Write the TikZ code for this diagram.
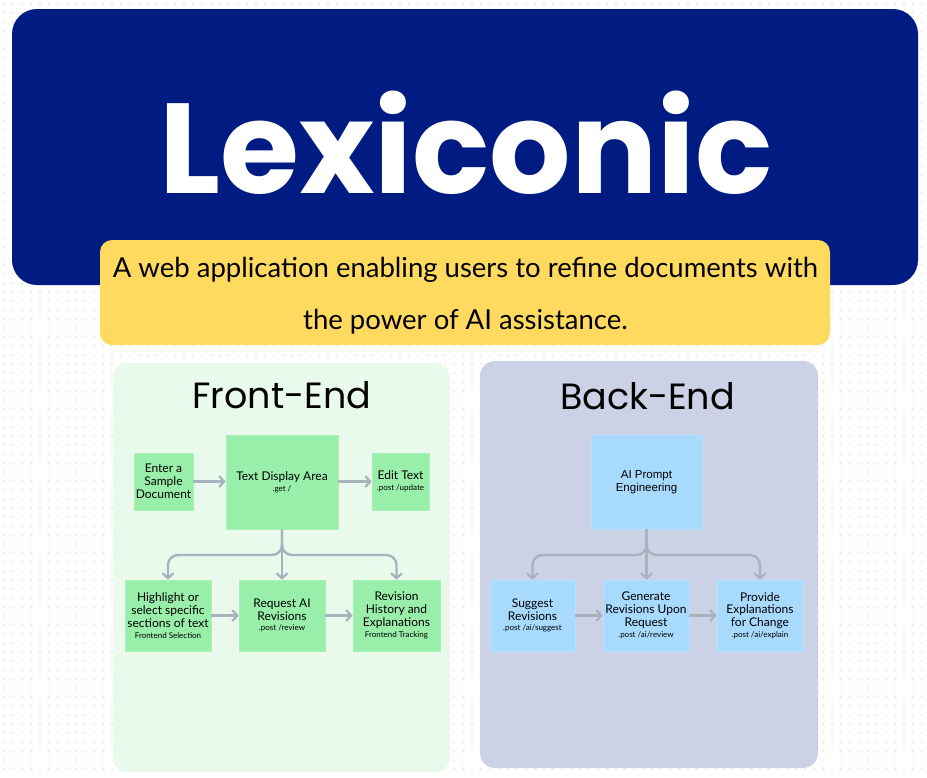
\documentclass[tikz,border=0pt]{standalone}
\usepackage{fontspec}
\setmainfont{Lato}
\newfontfamily\titlefont{Poppins}
\newfontfamily\headfont{Poppins}
\newfontfamily\arialfont{Liberation Sans}
\usetikzlibrary{arrows.meta}
\definecolor{darkblue}{RGB}{0,27,130}
\definecolor{yel}{RGB}{255,218,94}
\definecolor{fepanel}{RGB}{233,249,236}
\definecolor{bepanel}{RGB}{204,210,230}
\definecolor{gnode}{RGB}{153,239,169}
\definecolor{bnode}{RGB}{168,218,254}
\definecolor{arrc}{RGB}{168,178,188}
\definecolor{dotc}{RGB}{238,238,240}
\tikzset{
  gbox/.style={fill=gnode, draw=gnode!85!white, line width=0.6pt, align=center, inner sep=2pt,
     font=\fontsize{12}{12.8}\selectfont},
  bbox/.style={fill=bnode, draw=bnode!85!white, line width=0.6pt, align=center, inner sep=2pt,
     font=\fontsize{12}{12.8}\selectfont},
  arr/.style={draw=arrc, line width=2.4pt, -{Straight Barb[length=5pt,width=11pt,line width=2.2pt]}},
}
\newcommand{\sm}[1]{{\fontsize{8}{9}\selectfont #1}}
\begin{document}
\begin{tikzpicture}[x=1pt,y=-1pt]
\useasboundingbox (0,0) rectangle (927,777);
\fill[white] (0,0) rectangle (927,777);
\foreach \yy in {4,13,...,776}
  \draw[dotc, line width=2.6pt, line cap=round, dash pattern=on 0pt off 9pt] (4,\yy) -- (927,\yy);
% header
\fill[darkblue, rounded corners=25pt] (12,9) rectangle (918,285);
\node[white, anchor=base, inner sep=0pt, font=\titlefont\bfseries\fontsize{128}{128}\selectfont] (title) at (466,193) {Lexiconic};
\fill[yel, rounded corners=12pt] (100,240) rectangle (830,345);
\node[anchor=base, inner sep=0pt, font=\fontsize{27.5}{29}\selectfont] (sub1) at (465.5,277) {A web application enabling users to refine documents with};
\node[anchor=base, inner sep=0pt, font=\fontsize{27.5}{29}\selectfont] (sub2) at (465.5,329) {the power of AI assistance.};
% panels
\fill[fepanel, rounded corners=15pt] (113,363) rectangle (450,772);
\fill[bepanel, rounded corners=15pt] (480,361) rectangle (818,768);
\node[anchor=base, inner sep=0pt, font=\headfont\fontsize{36.5}{37}\selectfont] (fe) at (282,408) {Front-End};
\node[anchor=base, inner sep=0pt, font=\headfont\fontsize{36.5}{37}\selectfont] (be) at (647.5,409) {Back-End};
% front-end nodes
\node[gbox, minimum width=57, minimum height=57] (enter) at (163.5,481.5) {Enter a\\Sample\\Document};
\node[gbox, minimum width=112, minimum height=94] (td) at (282,482) {Text Display Area\\[-2pt]\sm{.get /}};
\node[gbox, minimum width=57, minimum height=57] (edit) at (400.5,481.5) {Edit Text\\[-2pt]\sm{.post /update}};
\node[gbox, minimum width=86, minimum height=71] (hl) at (168,615.5) {Highlight or\\select specific\\sections of text\\[-2pt]\sm{Frontend Selection}};
\node[gbox, minimum width=86, minimum height=71] (req) at (282,615.5) {Request AI\\Revisions\\[-2pt]\sm{.post /review}};
\node[gbox, minimum width=87, minimum height=71] (rev) at (396.5,615.5) {Revision\\History and\\Explanations\\[-2pt]\sm{Frontend Tracking}};
% back-end nodes
\node[bbox, minimum width=111, minimum height=94, font=\arialfont\fontsize{11.5}{12.8}\selectfont] (ai) at (646.5,482) {AI Prompt\\Engineering};
\node[bbox, minimum width=85, minimum height=71] (sug) at (532.5,615.5) {Suggest\\Revisions\\[-2pt]\sm{.post /ai/suggest}};
\node[bbox, minimum width=86, minimum height=71] (gen) at (646,615.5) {Generate\\Revisions Upon\\Request\\[-2pt]\sm{.post /ai/review}};
\node[bbox, minimum width=86, minimum height=71] (prov) at (760,615.5) {Provide\\Explanations\\for Change\\[-2pt]\sm{.post /ai/explain}};
% front-end connectors
\draw[arr] (enter.east) -- (enter.east -| td.west);
\draw[arr] (td.east |- edit.west) -- (edit.west);
\draw[arr, rounded corners=10pt] (td.south) |- (hl.north |- 0,555) -- (hl.north);
\draw[arr] (td.south) -- (req.north);
\draw[arr, rounded corners=10pt] (td.south) |- (rev.north |- 0,555) -- (rev.north);
\draw[arr] (hl.east) -- (req.west);
\draw[arr] (req.east) -- (rev.west);
% back-end connectors
\draw[arr, rounded corners=10pt] (ai.south) |- (sug.north |- 0,555) -- (sug.north);
\draw[arr] (ai.south) -- (ai.south |- gen.north);
\draw[arr, rounded corners=10pt] (ai.south) |- (prov.north |- 0,555) -- (prov.north);
\draw[arr] (sug.east) -- (gen.west);
\draw[arr] (gen.east) -- (prov.west);
\end{tikzpicture}
\end{document}
